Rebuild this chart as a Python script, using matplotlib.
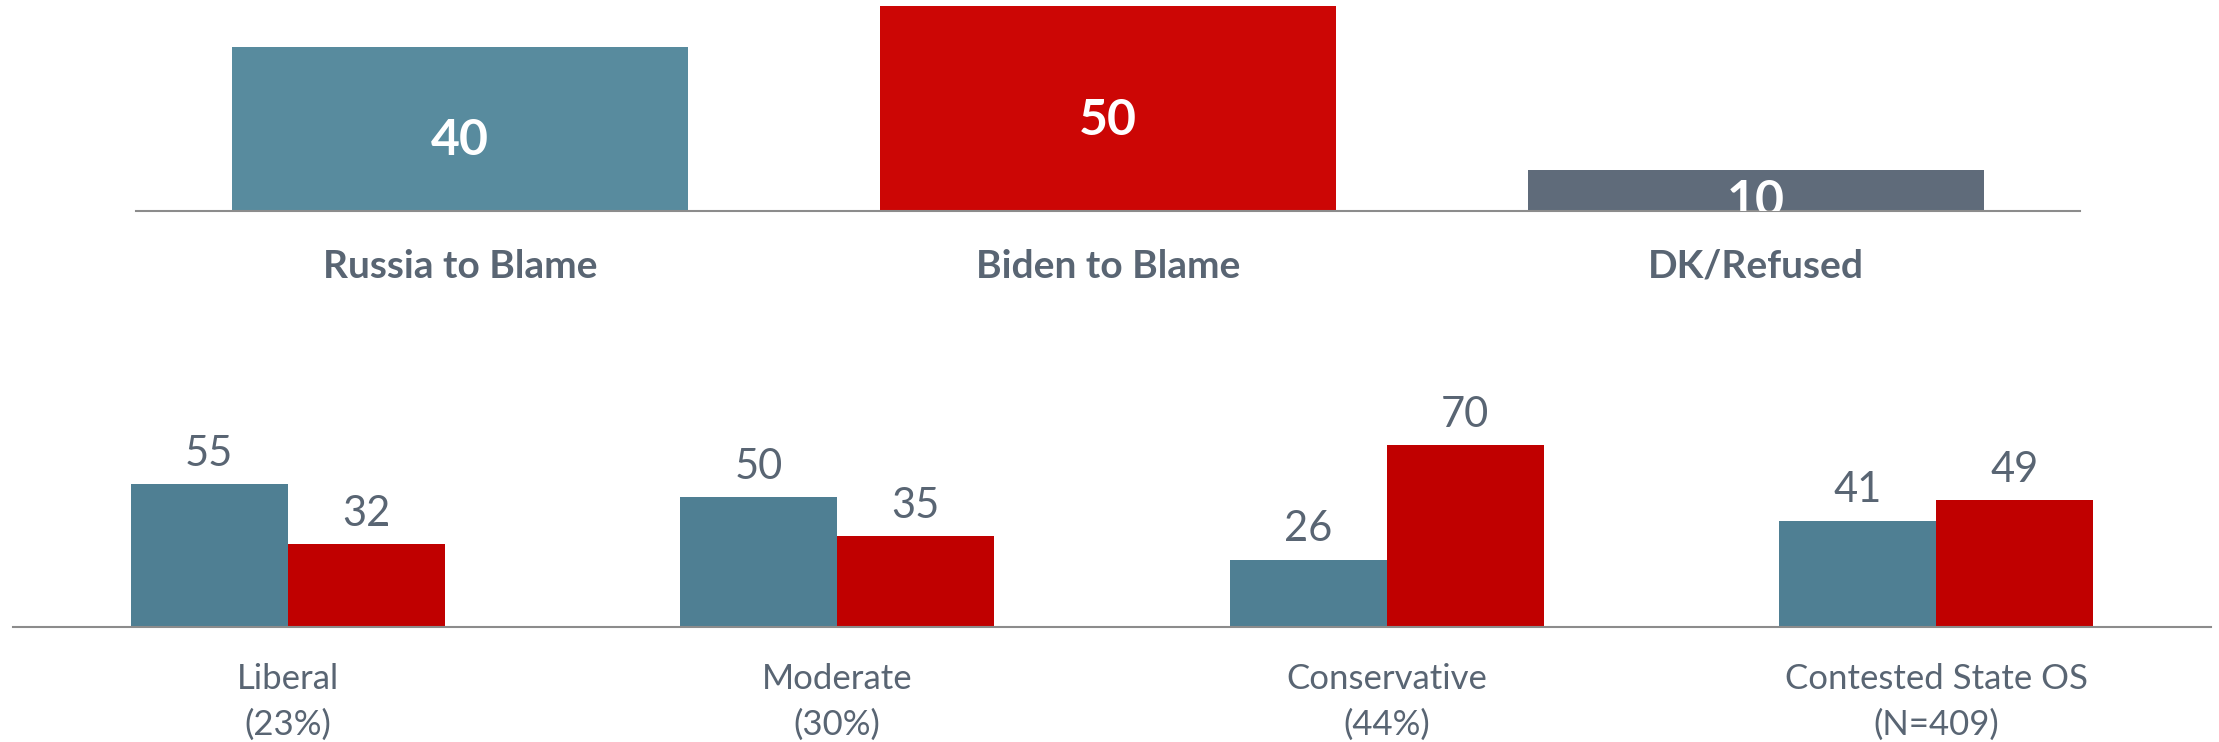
import numpy as np
import matplotlib
matplotlib.use("Agg")
import matplotlib.pyplot as plt

plt.rcParams['font.family'] = ['Lato', 'DejaVu Sans']

# overall blame
top_labels = ["Russia to Blame", "Biden to Blame", "DK/Refused"]
top_values = [40, 50, 10]
top_colors = ["#588b9e", "#cc0605", "#5f6b7a"]

# by ideology
groups = ["Liberal\n(23%)", "Moderate\n(30%)", "Conservative\n(44%)", "Contested State OS\n(N=409)"]
russia = [55, 50, 26, 41]
biden = [32, 35, 70, 49]

TEXT = "#596573"
AXIS = "#8c8c8c"

W, H = 2219, 742
fig = plt.figure(figsize=(W / 100, H / 100), dpi=100)

# top panel
ax1 = fig.add_axes([136 / W, 1 - 211 / H, (2080 - 136) / W, 211 / H])
x1 = np.arange(len(top_values))
ax1.bar(x1, top_values, width=0.705, color=top_colors)
for xi, v in zip(x1, top_values):
    t = ax1.text(xi, v / 2 - 2.8, str(v), ha='center', va='center',
                 color='white', fontsize=36, fontweight='bold')
    t.set_clip_on(True)
ax1.set_xlim(-0.5, 2.5)
ax1.set_ylim(0, 51.5)
ax1.set_xticks(x1)
ax1.set_xticklabels(top_labels, fontsize=28, fontweight='bold', color=TEXT)
ax1.tick_params(axis='x', length=0, pad=27)
ax1.set_yticks([])
for s in ['top', 'right', 'left']:
    ax1.spines[s].set_visible(False)
ax1.spines['bottom'].set_color(AXIS)
ax1.spines['bottom'].set_linewidth(1.5)

# bottom panel
ax2 = fig.add_axes([13 / W, 1 - 627 / H, 2198 / W, 95 * 2.595 / H])
x2 = np.arange(len(groups))
bw = 0.2856
b1 = ax2.bar(x2 - bw / 2, russia, width=bw, color="#4f7f93")
b2 = ax2.bar(x2 + bw / 2, biden, width=bw, color="#c00000")
for bars in (b1, b2):
    for r in bars:
        ax2.annotate(str(int(r.get_height())), (r.get_x() + r.get_width() / 2, r.get_height()),
                     xytext=(0, 8), textcoords='offset points', ha='center', va='bottom',
                     fontsize=30, color=TEXT)
ax2.set_xlim(-0.5, 3.5)
ax2.set_ylim(0, 95)
ax2.set_xticks(x2)
ax2.set_xticklabels(groups, fontsize=25, color=TEXT, linespacing=1.5)
ax2.tick_params(axis='x', length=0, pad=26)
ax2.set_yticks([])
for s in ['top', 'right', 'left']:
    ax2.spines[s].set_visible(False)
ax2.spines['bottom'].set_color(AXIS)
ax2.spines['bottom'].set_linewidth(1.5)

fig.savefig("out.png", dpi=100)
